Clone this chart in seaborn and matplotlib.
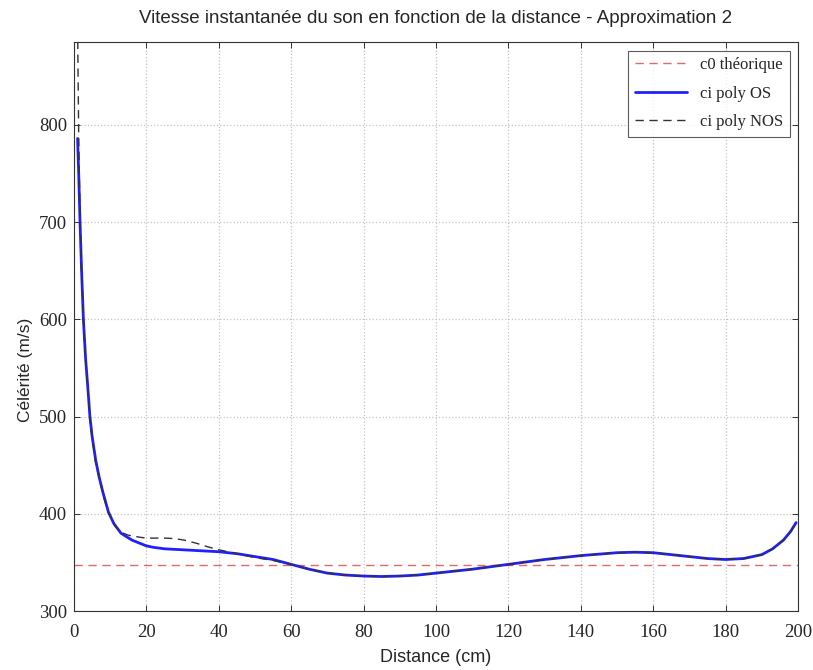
import numpy as np
import pandas as pd
import matplotlib
matplotlib.use("Agg")
import matplotlib.pyplot as plt
import seaborn as sns

# theoretical speed of sound
c0 = 347
x_c0 = [0, 200]

# ci poly OS
x_os = [1, 1.3, 1.67, 2.1, 2.6, 3.2, 3.8, 4.4, 5, 6, 7, 8, 9.5, 11, 13, 16, 18, 20, 22, 25, 30, 35,
        40, 45, 50, 55, 60, 65, 70, 75, 80, 85, 90, 95, 100, 110, 120, 130, 140,
        150, 155, 160, 165, 170, 175, 180, 185, 190, 193, 196, 198, 199.5]
y_os = [786, 750, 700, 650, 600, 560, 531, 500, 480, 455, 437, 422, 402, 390, 380, 373, 370, 367, 365.5, 364, 363, 362,
        361, 359, 356, 353, 348, 343, 339, 337, 336, 335.5, 336, 337, 339, 343, 348, 353, 357,
        360, 360.5, 360, 358, 356, 354, 353, 354, 358, 364, 373, 382, 391]

# ci poly NOS
x_nos = [0.8, 1, 1.3, 1.67, 2.1, 2.6, 3.2, 3.8, 4.4, 5, 6, 8, 9.5, 11.4, 13, 15, 18, 20, 25, 28, 31, 34, 37,
         40, 45, 50, 55, 60, 65, 70, 75, 80, 85, 90, 95, 100, 110, 120, 130, 140,
         150, 155, 160, 165, 170, 175, 180, 185, 190, 193, 196, 198, 199.5]
y_nos = [1000, 900, 790, 705, 650, 600, 558, 528, 498, 478, 452, 420, 401, 387, 381, 378, 376, 375, 375, 374.5, 372.5, 369.5, 366,
         363, 359, 355, 352, 348, 343, 339, 337, 336, 335.5, 336, 337, 339, 343, 348, 353, 357,
         360, 360.5, 360, 358, 356, 354, 353, 354, 358, 364, 373, 382, 391]

df_c0 = pd.DataFrame({"x": x_c0, "y": [c0] * len(x_c0)})
df_os = pd.DataFrame({"x": x_os, "y": y_os})
df_nos = pd.DataFrame({"x": x_nos, "y": y_nos})

sns.set_theme(style="ticks")
plt.rcParams["font.family"] = ["Liberation Sans", "DejaVu Sans"]
serif = ["Liberation Serif", "DejaVu Serif"]

fig = plt.figure(figsize=(8.13, 6.7), dpi=100)
ax = fig.add_axes([0.091, 0.088, 0.8905, 0.849])

sns.lineplot(data=df_c0, x="x", y="y", ax=ax, color="#e06a6a", linestyle=(0, (6, 4)),
             linewidth=1, label="c0 théorique")
sns.lineplot(data=df_os, x="x", y="y", ax=ax, color="#2020ff", linewidth=2,
             label="ci poly OS", sort=False)
sns.lineplot(data=df_nos, x="x", y="y", ax=ax, color="#333333", linestyle=(0, (6, 4)),
             linewidth=1, label="ci poly NOS", sort=False)

ax.set_xlim(0, 200)
ax.set_ylim(300, 885)
ax.set_xticks(range(0, 201, 20))
ax.set_yticks(range(300, 801, 100))
ax.grid(True, color="#c4c4c4", linestyle=":", linewidth=0.9)
for s in ax.spines.values():
    s.set_color("#333333")
    s.set_linewidth(0.8)
ax.tick_params(direction="in", top=True, right=True, length=4, width=0.7,
               color="#333333", labelsize=13.5, pad=5)
ax.tick_params(axis="x", pad=9)
for lab in ax.get_xticklabels() + ax.get_yticklabels():
    lab.set_family(serif)

ax.set_title("Vitesse instantanée du son en fonction de la distance - Approximation 2",
             fontsize=13.5, pad=14)
ax.set_xlabel("Distance (cm)", fontsize=13, labelpad=6)
ax.set_ylabel("Célérité (m/s)", fontsize=12.5)
ax.yaxis.set_label_coords(-0.056, 0.4236)

leg = ax.legend(loc="upper right", frameon=True, fancybox=False,
                prop={"family": serif, "size": 12}, labelspacing=0.75,
                handlelength=3.1, borderaxespad=0.5, edgecolor="#333333")
leg.get_frame().set_linewidth(0.8)

fig.savefig("out.png", dpi=100)
